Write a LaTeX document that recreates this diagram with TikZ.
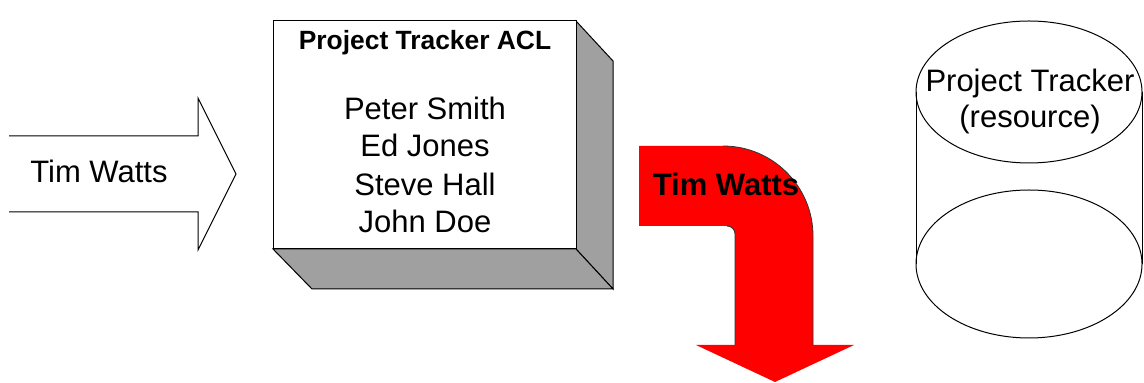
\documentclass[tikz,border=0pt]{standalone}
\usepackage{fontspec}
\setmainfont{Liberation Sans}
\usepackage{tikz}
\usetikzlibrary{calc,positioning}
\definecolor{cSide}{HTML}{A0A0A0}
\definecolor{cArr}{HTML}{FF0000}
\tikzset{
  edg/.style={line width=.5pt,black},
  face/.style={draw=black,line width=.5pt,fill=white},
  side/.style={draw=black,line width=.5pt,fill=cSide},
  redarr/.style={fill=cArr},
  redrim/.style={draw=black!80,line width=.4pt},
  lbl/.style={font=\fontsize{15.5}{18.6}\selectfont,inner sep=0pt,anchor=base},
  bold/.style={font=\fontsize{15.5}{18.6}\selectfont\bfseries,inner sep=0pt,anchor=base},
  ttl/.style={font=\fontsize{13.2}{16}\selectfont\bfseries,inner sep=0pt,anchor=base},
}

\begin{document}
\begin{tikzpicture}[x=0.5pt,y=-0.5pt]
  \useasboundingbox (0,0) rectangle (1144,383);
  % ---------------- incoming request
  \draw[edg] (9,136) -- (198,136) -- (198,98) -- (236,174) -- (198,250) -- (198,212) -- (9,212);
  \node[lbl] (req) at (99,183) {Tim Watts};
  % ---------------- the ACL block
  \draw[side] (576,21) -- (613,61) -- (613,289) -- (576,249) -- cycle;
  \draw[side] (273,249) -- (576,249) -- (613,289) -- (312,289) -- cycle;
  \draw[face] (273,21) rectangle (576,249);
  \node[ttl] (acl) at (425,50) {Project Tracker ACL};
  \foreach \n/\t/\y in {n1/Peter Smith/120,n2/Ed Jones/157,n3/Steve Hall/196,n4/John Doe/233}{
    \node[lbl] (\n) at (425,\y) {\t};
  }
  % ---------------- rejected request
  \fill[redarr] (639,146) -- (723,146) .. controls (772.7,146) and (813,186.3) .. (813,236)
    -- (813,345) -- (854,345) -- (775,382) -- (696,345) -- (735,345) -- (735,234)
    .. controls (735,229.6) and (731.4,226) .. (727,226) -- (639,226) -- cycle;
  \draw[redrim] (723,146) .. controls (772.7,146) and (813,186.3) .. (813,236) -- (813,345);
  \draw[redrim] (735,345) -- (735,234) .. controls (735,229.6) and (731.4,226) .. (727,226);
  \node[bold] (rej) at (726,196) {Tim Watts};
  % ---------------- the resource
  \draw[edg] (916,92) -- (916,264) (1142,92) -- (1142,264);
  \draw[edg] (1029,92) ellipse[x radius=113,y radius=71];
  \draw[edg] (1029,264) ellipse[x radius=113,y radius=74];
  \node[lbl] (res1) at (1030,92) {Project Tracker};
  \node[lbl] (res2) at (1030,128) {(resource)};
\end{tikzpicture}
\end{document}
